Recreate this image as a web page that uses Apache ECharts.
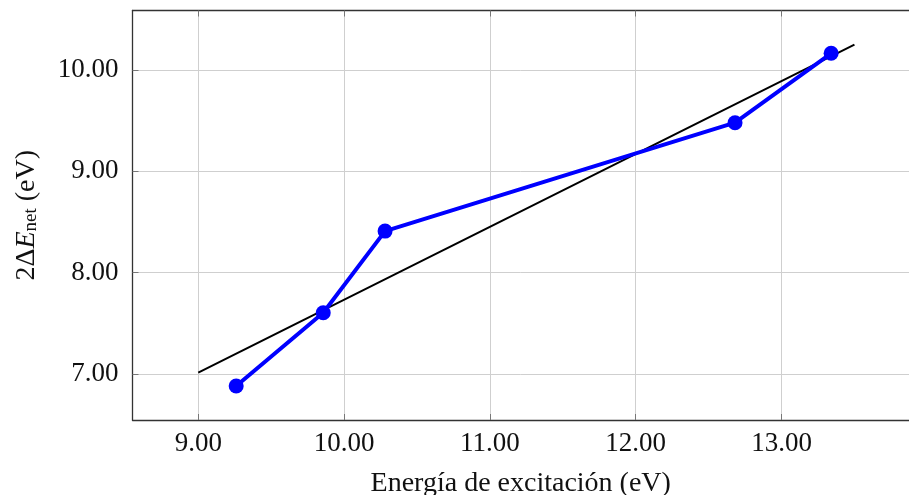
<!DOCTYPE html>
<html>
<head>
<meta charset="utf-8">
<script src="https://cdn.jsdelivr.net/npm/echarts@6/dist/echarts.min.js"></script>
<style>html,body{margin:0;padding:0;background:#fff}#c{width:909px;height:495px}</style>
</head>
<body>
<div id="c"></div>
<script>
var excitation = [9.26, 9.857, 10.281, 12.681, 13.34];
var deltaE = [6.882, 7.605, 8.41, 9.48, 10.165];
var fitX = [9.0, 13.5];
var fitY = [7.013, 10.25];
var xTicks = [9, 10, 11, 12, 13];
var yTicks = [7, 8, 9, 10];

var F = '"Liberation Serif", "DejaVu Serif", serif';
var chart = echarts.init(document.getElementById('c'));
function pairs(a, b) { return a.map(function (v, i) { return [v, b[i]]; }); }
function fmt(v) { return v.toFixed(2); }
chart.setOption({
  animation: false,
  grid: { left: 132.5, top: 10.5, right: 0, bottom: 75, outerBoundsMode: 'none', containLabel: false },
  xAxis: [{
    type: 'value', min: 8.549, max: 13.874,
    axisLine: { show: true, onZero: false, lineStyle: { color: '#333', width: 1.3 } },
    axisTick: { show: true, inside: true, length: 6, customValues: xTicks, lineStyle: { color: '#777' } },
    axisLabel: { fontFamily: F, fontSize: 27, color: '#111', margin: 10, customValues: xTicks, formatter: fmt },
    splitLine: { show: true, lineStyle: { color: '#cfcfcf', width: 1 } },
    name: 'Energía de excitación (eV)', nameLocation: 'middle', nameGap: 50,
    nameTextStyle: { fontFamily: F, fontSize: 28, color: '#111' }
  }, {
    type: 'value', position: 'top', min: 8.549, max: 13.874,
    axisLine: { show: true, onZero: false, lineStyle: { color: '#333', width: 1.3 } },
    axisTick: { show: true, inside: true, length: 6, customValues: xTicks, lineStyle: { color: '#777' } },
    axisLabel: { show: false }, splitLine: { show: false }
  }],
  yAxis: [{
    type: 'value', min: 6.546, max: 10.587,
    axisLine: { show: true, onZero: false, lineStyle: { color: '#333', width: 1.3 } },
    axisTick: { show: true, inside: true, length: 6, customValues: yTicks, lineStyle: { color: '#777' } },
    axisLabel: { fontFamily: F, fontSize: 27, color: '#111', margin: 14, customValues: yTicks, formatter: fmt },
    splitLine: { show: true, lineStyle: { color: '#cfcfcf', width: 1 } },
    name: '{n|2Δ}{i|E}{s|net}{n| (eV)}', nameLocation: 'middle', nameGap: 92,
    nameTextStyle: {
      fontFamily: F, fontSize: 28, color: '#111',
      rich: {
        n: { fontFamily: F, fontSize: 28, color: '#111' },
        i: { fontFamily: F, fontSize: 28, fontStyle: 'italic', color: '#111' },
        s: { fontFamily: F, fontSize: 19, color: '#111', verticalAlign: 'bottom', padding: [9, 0, 0, 0] }
      }
    }
  }],
  series: [{
    type: 'line', data: pairs(fitX, fitY), symbol: 'none',
    lineStyle: { color: '#000', width: 2 }, z: 2
  }, {
    type: 'line', data: pairs(excitation, deltaE), symbol: 'circle', symbolSize: 15,
    itemStyle: { color: '#0000ff' }, lineStyle: { color: '#0000ff', width: 4 }, z: 3
  }]
});
</script>
</body>
</html>
